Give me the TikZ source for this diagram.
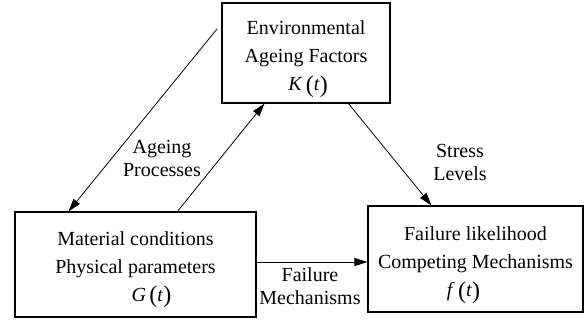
\documentclass[tikz,border=0pt]{standalone}
\usepackage{fontspec}
\setmainfont{Liberation Serif}
\usetikzlibrary{arrows.meta}
\newcommand{\bigpar}[1]{\raisebox{-1.5bp}{\fontsize{24bp}{24bp}\selectfont #1}}
\newcommand{\fn}[1]{\textit{#1}\,\bigpar{(}\textit{t}\bigpar{)}}
\begin{document}
\begin{tikzpicture}[x=1bp,y=-1bp,
  box/.style={draw,line width=1.1bp,inner sep=0pt},
  boxtext/.style={align=center,inner sep=0pt,
    font=\fontsize{20bp}{28bp}\selectfont},
  lbl/.style={align=center,inner sep=0pt,font=\fontsize{20bp}{23bp}\selectfont},
  conn/.style={line width=0.8bp,-{Triangle[length=13bp,width=8bp]}}]
\useasboundingbox (0,0) rectangle (585,320);
\fill[white] (0,0) rectangle (585,320);
\node[box,minimum width=168bp,minimum height=100bp] (env) at (306,53) {};
\node[box,minimum width=241bp,minimum height=105bp] (mat) at (135.5,264.5) {};
\node[box,minimum width=215bp,minimum height=106bp] (fail) at (475.5,259) {};
\node[boxtext] (envT) at ([yshift=-6bp]env.center)
  {Environmental\\Ageing Factors\\\hspace*{4bp}\fn{K}};
\node[boxtext] (matT) at ([yshift=-5bp]mat.center)
  {Material conditions\\Physical parameters\\\hspace*{32bp}\fn{G}};
\node[boxtext] (failT) at ([yshift=-6bp]fail.center)
  {Failure likelihood\\Competing Mechanisms\\\fn{f}\hspace*{24bp}};
\coordinate (a1) at (217,29);
\draw[conn] (a1) -- ([xshift=54bp]mat.north west);
\draw[conn] ([xshift=163bp]mat.north west) -- ([xshift=43bp]env.south west);
\draw[conn] ([xshift=127bp]env.south west) -- ([xshift=64bp]fail.north west);
\draw[conn] ([yshift=2.5bp]mat.east) coordinate (h1) -- (h1 -| fail.west);
\node[lbl] (l1) at (162,158) {Ageing\\Processes};
\node[lbl] (l2) at (460,162) {Stress\\Levels};
\node[lbl] (l3) at (310,286) {Failure\\Mechanisms};
\end{tikzpicture}
\end{document}
